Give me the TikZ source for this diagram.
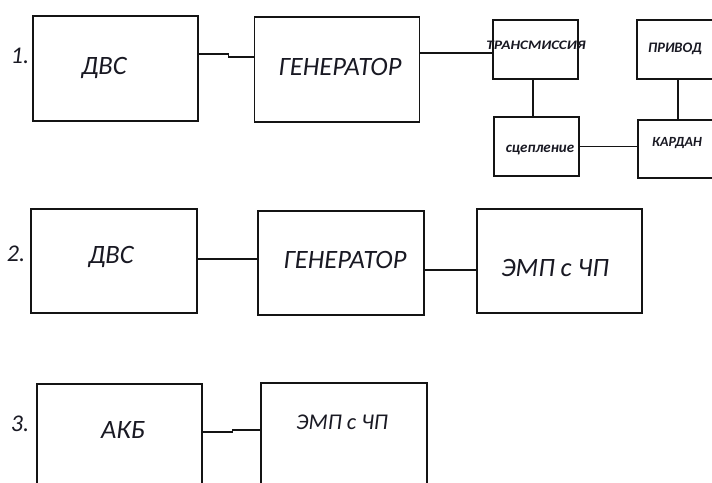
\documentclass[tikz,border=0pt]{standalone}
\usepackage{fontspec}
\setmainfont{Carlito}
\usepackage{tikz}
\usetikzlibrary{calc,positioning}
\definecolor{schemeLine}{RGB}{20,20,20}
\definecolor{schemeText}{RGB}{25,25,35}

\begin{document}
\begin{tikzpicture}[x=1pt,y=-1pt,
    block/.style={draw=schemeLine, line width=1.1pt, inner sep=0pt},
    bigblock/.style={block, minimum width=165pt, minimum height=105pt},
    smallblock/.style={block, minimum width=85pt, minimum height=59pt},
    link/.style={draw=schemeLine, line width=1.1pt},
    biglabel/.style={text=schemeText, font=\fontsize{26.5}{28}\selectfont\itshape, inner sep=0pt},
    smalllabel/.style={text=schemeText, font=\fontsize{14.5}{16}\selectfont\itshape\bfseries, inner sep=0pt}]
    \useasboundingbox (0,0) rectangle (712,482);
    \clip (0,0) rectangle (712,482);

    % row 1
    \node[bigblock] (dvsA) at (115.5,68.5) {};
    \node[bigblock] (genA) at (337,69.5) {};
    \node[smallblock] (trans) at (535.5,49.5) {};
    \node[smallblock] (privod) at (679.5,49.5) {};
    \node[smallblock] (scep) at (536.5,146.5) {};
    \node[smallblock, minimum height=58pt] (kardan) at (680.5,149) {};

    \node[biglabel, font=\fontsize{24}{26}\selectfont\itshape] (numA) at (20,56) {1.};
    \node[biglabel] (dvsAtext) at (104,68) {ДВС};
    \node[biglabel] (genAtext) at (340,67) {ГЕНЕРАТОР};
    \node[smalllabel, font=\fontsize{13}{15}\selectfont\itshape\bfseries] (transtext) at (536,45) {\scalebox{1.17}[1]{ТРАНСМИССИЯ}};
    \node[smalllabel] (privodtext) at (675,49) {ПРИВОД};
    \node[smalllabel, font=\fontsize{14}{16}\selectfont\itshape\bfseries] (kardantext) at (677,143) {КАРДАН};
    \node[smalllabel, font=\fontsize{15}{17}\selectfont\itshape\bfseries] (sceptext) at (540,150) {сцепление};

    \draw[link] ([yshift=14.5pt]dvsA.east) -- ++(30,0) |- ([yshift=12.5pt]genA.west);
    \draw[link] ([yshift=16.5pt]genA.east) -- ([yshift=16.5pt]genA.east -| trans.west);
    \draw[link] ([xshift=-2.5pt]trans.south) -- ([xshift=-2.5pt]trans.south |- scep.north);
    \draw[link] (scep.east) -- (scep.east -| kardan.west);
    \draw[link] ([xshift=-1.5pt]privod.south) -- ([xshift=-1.5pt]privod.south |- kardan.north);

    % row 2
    \node[bigblock, minimum width=166pt, minimum height=104pt] (dvsB) at (114,261) {};
    \node[bigblock, minimum width=166pt, minimum height=104pt] (genB) at (341,263) {};
    \node[bigblock, minimum height=104pt] (empB) at (559.5,261) {};

    \node[biglabel, font=\fontsize{24}{26}\selectfont\itshape] (numB) at (16,254) {2.};
    \node[biglabel] (dvsBtext) at (111,257) {ДВС};
    \node[biglabel] (genBtext) at (345,260) {ГЕНЕРАТОР};
    \node[biglabel] (empBtext) at (555,268) {ЭМП с ЧП};

    \draw[link] ([yshift=2pt]dvsB.east) -- ([yshift=2pt]dvsB.east -| genB.west);
    \draw[link] ([yshift=-7pt]genB.east) -- ([yshift=-7pt]genB.east -| empB.west);

    % row 3
    \node[bigblock] (akb) at (119.5,436.5) {};
    \node[bigblock, minimum width=166pt] (empC) at (344,435.5) {};

    \node[biglabel, font=\fontsize{24}{26}\selectfont\itshape] (numC) at (20,424) {3.};
    \node[biglabel] (akbtext) at (123,430) {АКБ};
    \node[biglabel, font=\fontsize{22.5}{24}\selectfont\itshape] (empCtext) at (342,422) {ЭМП с ЧП};

    \draw[link] ([yshift=4.5pt]akb.east) -- ++(30,0) |- ([yshift=5.5pt]empC.west);
\end{tikzpicture}
\end{document}
